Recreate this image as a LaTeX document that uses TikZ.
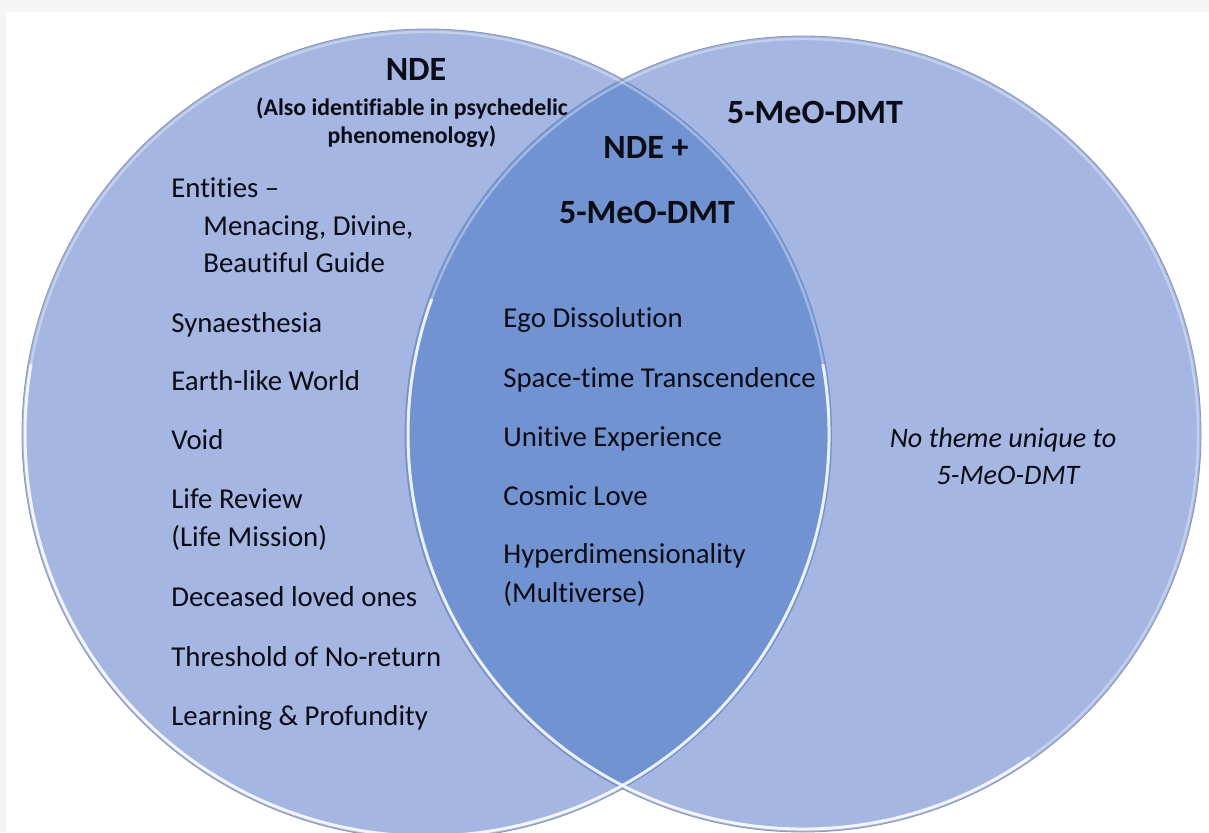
\documentclass[tikz,border=0pt]{standalone}
\usepackage{fontspec}
\setmainfont{Carlito}[Ligatures={TeX,NoCommon}]
\usepackage{tikz}
\usetikzlibrary{positioning}

\definecolor{circfill}{RGB}{164,182,225}
\definecolor{lensfill}{RGB}{114,147,210}
\definecolor{rimline}{RGB}{135,148,178}
\definecolor{bargray}{RGB}{245,245,245}
\definecolor{txt}{RGB}{12,12,22}

\tikzset{
  item/.style={anchor=base west, inner sep=0pt, text=txt, font=\fontsize{14.4}{17}\selectfont},
  title/.style={anchor=base, inner sep=0pt, text=txt, font=\bfseries\fontsize{17}{20}\selectfont},
  subtitle/.style={anchor=base, inner sep=0pt, text=txt, font=\bfseries\fontsize{11.9}{14}\selectfont},
  note/.style={anchor=base, inner sep=0pt, text=txt, font=\itshape\fontsize{14.1}{17}\selectfont},
  rim/.style={white, line width=1.5pt, opacity=0.8},
  softrim/.style={white, line width=1.2pt, opacity=0.35},
}

\begin{document}
\begin{tikzpicture}[x=0.5pt, y=-0.5pt]
    % page and grey strips
    \useasboundingbox (0,0) rectangle (1209,832);
    \fill[white] (0,0) rectangle (1209,832);
    \fill[bargray] (0,0) rectangle (1209,12);
    \fill[bargray] (0,12) rectangle (6,832);

    \coordinate (cl) at (427,434);
    \coordinate (cr) at (803,434);

    % the two circles
    \fill[circfill] (cl) circle[radius=405];
    \draw[rimline, line width=0.4pt] (cl) circle[radius=405];
    \fill[circfill] (cr) circle[radius=398];
    \draw[rimline, line width=0.4pt] (cr) circle[radius=398];

    % overlap
    \begin{scope}
        \clip (cl) circle[radius=405];
        \fill[lensfill] (cr) circle[radius=398];
    \end{scope}

    % highlights along the rims
    \draw[softrim] (cl) circle[radius=402];
    \draw[softrim] (cr) circle[radius=395];
    \draw[rim] (cl) ++(-10:402) arc[start angle=-10, end angle=190, radius=402];
    \draw[rim] (cr) ++(55:395) arc[start angle=55, end angle=200, radius=395];

    % NDE side
    \node[title] (nde) at (416,80) {NDE};
    \node[subtitle] (also) at (412,115) {(Also identifiable in psychedelic};
    \node[subtitle] (phen) at (412,143) {phenomenology)};
    \node[item] (ent) at (171,197) {Entities –};
    \node[item] (men) at (203,235) {Menacing, Divine,};
    \node[item] (guide) at (203,272) {Beautiful Guide};
    \node[item] (syn) at (171,332) {Synaesthesia};
    \node[item] (earth) at (171,390) {Earth-like World};
    \node[item] (void) at (171,449) {Void};
    \node[item] (life) at (171,508) {Life Review};
    \node[item] (mission) at (171,546) {(Life Mission)};
    \node[item] (dead) at (171,606) {Deceased loved ones};
    \node[item] (thresh) at (171,666) {Threshold of No-return};
    \node[item] (learn) at (171,725) {Learning \& Profundity};

    % shared themes
    \node[title] (both) at (646,158) {NDE +};
    \node[title] (bothdmt) at (647,223) {5-MeO-DMT};
    \node[item] (ego) at (503,327) {Ego Dissolution};
    \node[item] (space) at (503,387) {Space-time Transcendence};
    \node[item] (unit) at (503,446) {Unitive Experience};
    \node[item] (love) at (503,505) {Cosmic Love};
    \node[item] (hyper) at (503,563) {Hyperdimensionality};
    \node[item] (multi) at (503,602) {(Multiverse)};

    % 5-MeO-DMT side
    \node[title] (dmt) at (815,123) {5-MeO-DMT};
    \node[note] (none) at (1003,447) {No theme unique to};
    \node[note] (nonedmt) at (1008,484) {5-MeO-DMT};
\end{tikzpicture}
\end{document}
